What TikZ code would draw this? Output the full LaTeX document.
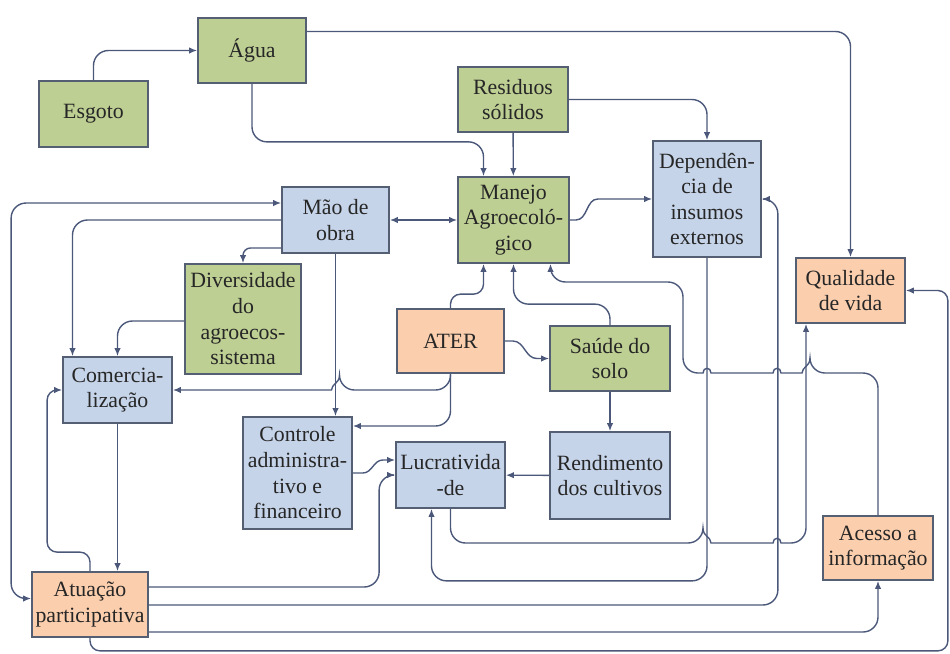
\documentclass[tikz,border=0pt]{standalone}
\usepackage{fontspec}
\setmainfont{Liberation Serif}
\usetikzlibrary{arrows.meta, calc}

\definecolor{ecogreen}{RGB}{190,207,147}
\definecolor{gestblue}{RGB}{198,212,233}
\definecolor{socorange}{RGB}{251,207,174}
\definecolor{boxline}{RGB}{85,95,115}
\definecolor{linkcol}{RGB}{75,88,122}

\tikzset{
  box/.style={draw=boxline, line width=1pt, align=center, inner sep=1pt,
    text=black!85, font=\fontsize{12.4}{14.6}\selectfont},
  eco/.style={box, fill=ecogreen},
  gest/.style={box, fill=gestblue},
  soc/.style={box, fill=socorange},
  link/.style={draw=linkcol, line width=0.8pt, ->, rounded corners=0.3cm},
  hop/.style={out=90, in=90, looseness=2},
}

\begin{document}
\begin{tikzpicture}[x=0.02cm, y=-0.02cm, >={Latex[length=4.5pt,width=3.6pt]}]
    \useasboundingbox (0,0) rectangle (950,653);
    % Environment boxes
    \node[eco, minimum width=2.18cm, minimum height=1.32cm] (esgoto) at (93.5,114) {Esgoto};
    \node[eco, minimum width=2.16cm, minimum height=1.30cm] (agua) at (252,50.5) {Água};
    \node[eco, minimum width=2.20cm, minimum height=1.30cm] (residuos) at (513,99.5) {Residuos\\sólidos};
    \node[eco, minimum width=2.22cm, minimum height=1.72cm] (manejo) at (513.5,220) {Manejo\\Agroecoló-\\gico};
    \node[eco, minimum width=2.32cm, minimum height=2.20cm] (div) at (243,319) {Diversidade\\do\\agroecos-\\sistema};
    \node[eco, minimum width=2.40cm, minimum height=1.30cm] (saude) at (610,358.5) {Saúde do\\solo};
    % Management boxes
    \node[gest, minimum width=2.16cm, minimum height=2.32cm] (dep) at (707,199) {Dependên-\\cia de\\insumos\\externos};
    \node[gest, minimum width=2.14cm, minimum height=1.32cm] (mao) at (335.5,220) {Mão de\\obra};
    \node[gest, minimum width=2.18cm, minimum height=1.32cm] (com) at (117.5,390) {Comercia-\\lização};
    \node[gest, minimum width=2.18cm, minimum height=2.24cm] (ctrl) at (297.5,473) {Controle\\administra-\\tivo e\\financeiro};
    \node[gest, minimum width=2.18cm, minimum height=1.32cm] (lucr) at (450.5,475) {Lucrativida\\-de};
    \node[gest, minimum width=2.40cm, minimum height=1.74cm] (rend) at (610,475.5) {Rendimento\\dos cultivos};
    % Social boxes
    \node[soc, minimum width=2.18cm, minimum height=1.30cm] (qual) at (850.5,290.5) {Qualidade\\de vida};
    \node[soc, minimum width=2.14cm, minimum height=1.28cm] (ater) at (450.5,341) {ATER};
    \node[soc, minimum width=2.20cm, minimum height=1.28cm] (acesso) at (878,548) {Acesso a\\informação};
    \node[soc, minimum width=2.32cm, minimum height=1.30cm] (atu) at (90,604.5) {Atuação\\participativa};

    % Water and waste
    \draw[link] (esgoto.north) |- (agua.west);
    \draw[link] ($(agua.east)+(0,-19)$) -| (qual.north);
    \draw[link] (agua.south) -- ++(0,58) -| ($(manejo.north)+(-30,0)$);
    \draw[link] (residuos) -- (manejo);
    \draw[link] (residuos.east) -| (dep.north);
    \draw[link, sharp corners] (manejo.east) -- ++(6,0) to[out=0,in=180] ++(22,-21) -- (dep.west);
    % Labour
    \draw[link, <->] (mao) -- (manejo);
    \draw[link, rounded corners=0.15cm] ($(mao.west)+(0,28)$) -| (div.north);
    \draw[link, <->] ($(mao.west)+(0,-17)$) -| ($(atu.west)+(-20,-6)$) -- ($(atu.west)+(0,-6)$);
    \draw[link] (mao.west) -| ($(com.north)+(-45,0)$);
    \draw[link] ($(div.west)+(0,2)$) -| (com.north);
    \draw[link] (mao.south) -- (mao.south |- ctrl.north);
    % ATER
    \draw[link] (ater.south) |- ($(mao.south |- com.east)+(4,0)$)
        [sharp corners] to[hop] ++(-8,0) -- (com.east);
    \draw[link] (ater.south) |- ($(ctrl.east)+(0,-47)$);
    \draw[link, rounded corners=0.2cm] (ater.north) -- ++(0,-14) -| ($(manejo.south)+(-30,0)$);
    \draw[link, sharp corners] (ater.east) -- ++(8,0) to[out=0,in=180] ++(24,17.5) -- (saude.west);
    % Soil and yield
    \draw[link] (saude.north) -- ++(0,-21) -| (manejo.south);
    \draw[link] (saude) -- (rend);
    \draw[link] (rend) -- (lucr);
    \draw[link] (acesso.north) |- (810,373)
        [sharp corners] to[hop] ++(-8,0) -- (781,373)
        to[hop] ++(-8,0) -- (711,373)
        to[hop] ++(-8,0)
        [rounded corners=0.3cm] -| (683,282) -| ($(manejo.south)+(37,0)$);
    % Profit
    \draw[link, sharp corners] (ctrl.east) -- ++(10,0) to[out=0,in=180] ++(20,-13) -- ($(lucr.west)+(0,-15)$);
    \draw[link] ($(atu.east)+(0,-17.5)$) -| ($(lucr.west)+(-16,0)$) -- (lucr.west);
    \draw[link] (lucr.south) |- (703,543)
        [sharp corners] to[hop] ++(8,0) -- (773,543)
        to[hop] ++(8,0)
        [rounded corners=0.3cm] -| ($(qual.south)+(-44.5,0)$);
    \draw[link] (dep.south) -- ++(0,323) -| ($(lucr.south)+(-19,0)$);
    % Participation
    \draw[link] ($(atu.east)+(0,0.5)$) -| ($(dep.east)+(16,0)$) -- (dep.east);
    \draw[link] ($(atu.east)+(0,27.5)$) -| (acesso.south);
    \draw[link, rounded corners=0.2cm] (atu.south) -- ++(0,13) -| ($(qual.east)+(42,0)$) -- (qual.east);
    \draw[link] (com.south) -- (com.south |- atu.north);
    \draw[link, rounded corners=0.2cm] (atu.north) -- ++(0,-19) -| ($(com.west)+(-15,0)$) -- (com.west);
\end{tikzpicture}
\end{document}
